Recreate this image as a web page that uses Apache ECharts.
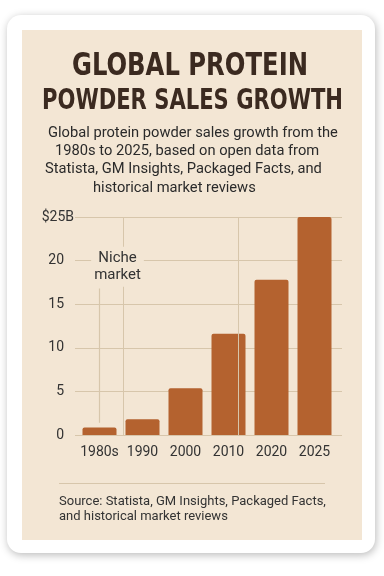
<!DOCTYPE html>
<html>
<head>
<meta charset="utf-8">
<script src="https://cdn.jsdelivr.net/npm/echarts@6/dist/echarts.min.js"></script>
<style>
html,body{margin:0;padding:0;background:#ffffff;}
#c{width:384px;height:576px;}
</style>
</head>
<body>
<div id="c"></div>
<script>
// ---- data ----
var categories = ['1980s', '1990', '2000', '2010', '2020', '2025'];
var sales = [0.85, 1.8, 5.35, 11.6, 17.8, 25]; // billions USD
var yTickLabels = ['0', '5', '10', '15', '20', '$25B'];
var titleLines = ['GLOBAL PROTEIN', 'POWDER SALES GROWTH'];
var subtitleLines = [
  'Global protein powder sales growth from the',
  '1980s to 2025, based on open data from',
  'Statista, GM Insights, Packaged Facts, and',
  'historical market reviews'
];
var annotationText = 'Niche\nmarket';
var sourceText = 'Source: Statista, GM Insights, Packaged Facts,\nand historical market reviews';

// ---- styles ----
var BEIGE = '#f3e6d4';
var GRID = '#d7c6ab';
var BAR = '#b4622f';
var INK = '#333333';
var TITLE = '#3b2a20';
var titleFont = "'DejaVu Sans Condensed', 'DejaVu Sans', sans-serif";

function measure(text, font) {
  var cv = document.createElement('canvas').getContext('2d');
  cv.font = font;
  return cv.measureText(text).width;
}
function titleText(text, cx, cy, size, targetW) {
  var w = measure(text, 'bold ' + size + 'px ' + titleFont);
  return {
    type: 'text', x: cx, y: cy, scaleX: targetW / w, z: 10,
    style: { text: text, fill: TITLE, font: 'bold ' + size + 'px ' + titleFont, textAlign: 'center', textVerticalAlign: 'middle' }
  };
}

var chart = echarts.init(document.getElementById('c'), null, { renderer: 'canvas' });

var subX = [48, 55, 45, 93];
var subGraphics = subtitleLines.map(function (t, i) {
  return {
    type: 'text', x: subX[i], y: 133 + i * 18.3, z: 10,
    style: { text: t, fill: '#2a2a2a', font: '14.7px Roboto', textAlign: 'left', textVerticalAlign: 'middle' }
  };
});

var option = {
  animation: false,
  backgroundColor: '#ffffff',
  graphic: [
    { type: 'rect', shape: { x: 7, y: 15, width: 368, height: 538, r: 14 }, z: -10,
      style: { fill: '#ffffff', shadowBlur: 8, shadowColor: 'rgba(0,0,0,0.28)', shadowOffsetY: 2, shadowOffsetX: 1 } },
    { type: 'rect', shape: { x: 22, y: 30, width: 340, height: 510 }, z: -9, style: { fill: BEIGE } },
    titleText(titleLines[0], 190, 67, 32, 236),
    titleText(titleLines[1], 192.5, 101, 29, 301),
    { type: 'line', shape: { x1: 59, y1: 483.5, x2: 325, y2: 483.5 }, z: 10, style: { stroke: GRID, lineWidth: 1 } },
    { type: 'text', x: 59, y: 494, z: 10,
      style: { text: sourceText, fill: INK, font: '13px Roboto', lineHeight: 15, textAlign: 'left', textVerticalAlign: 'top' } }
  ].concat(subGraphics),
  grid: [
    { left: 75, right: 42, top: 217, bottom: 141 },
    { left: 78, right: 48, top: 217, bottom: 141 }
  ],
  xAxis: [
    { gridIndex: 0, type: 'value', min: 0, max: 100, show: false },
    { gridIndex: 1, type: 'category', data: categories,
      axisLine: { show: false }, axisTick: { show: false },
      axisLabel: { interval: 0, margin: 10, fontSize: 14, color: INK, fontFamily: 'Roboto' } }
  ],
  yAxis: [
    { gridIndex: 0, type: 'value', min: 0, max: 25, interval: 5,
      axisLine: { show: false }, axisTick: { show: false },
      splitLine: { lineStyle: { color: GRID, width: 1 } },
      axisLabel: {
        margin: 1, fontSize: 14, color: INK, fontFamily: 'Roboto',
        formatter: function (v) {
          var s = yTickLabels[Math.round(v / 5)];
          return v === 25 ? s : '{p|' + s + '}';
        },
        rich: { p: { padding: [0, 10, 0, 0], fontSize: 14, color: INK, fontFamily: 'Roboto' } }
      } },
    { gridIndex: 1, type: 'value', min: 0, max: 25, interval: 5, show: false, splitLine: { show: false } }
  ],
  series: [
    { type: 'line', xAxisIndex: 0, yAxisIndex: 0, data: [], z: 1, silent: true,
      markLine: { silent: true, symbol: 'none', label: { show: false },
        lineStyle: { color: GRID, width: 1, type: 'solid' },
        data: [{ xAxis: 18 }, { xAxis: 61 }] } },
    { type: 'bar', xAxisIndex: 1, yAxisIndex: 1, data: sales, z: 3, barWidth: 34,
      itemStyle: { color: BAR, borderRadius: [2, 2, 0, 0] },
      markLine: { silent: true, symbol: 'none', label: { show: false },
        lineStyle: { color: GRID, width: 1.2, type: 'solid' },
        data: [[{ coord: ['1980s', 1.4] }, { coord: ['1980s', 16.8] }]] },
      markPoint: { silent: true, symbol: 'rect', symbolSize: 0,
        label: { show: true, position: 'inside', offset: [18, 0], formatter: annotationText,
          fontSize: 15, lineHeight: 17, color: INK, fontFamily: 'Roboto',
          backgroundColor: BEIGE, padding: [3, 3] },
        data: [{ coord: ['1980s', 19.3] }] } }
  ]
};
chart.setOption(option);
</script>
</body>
</html>
